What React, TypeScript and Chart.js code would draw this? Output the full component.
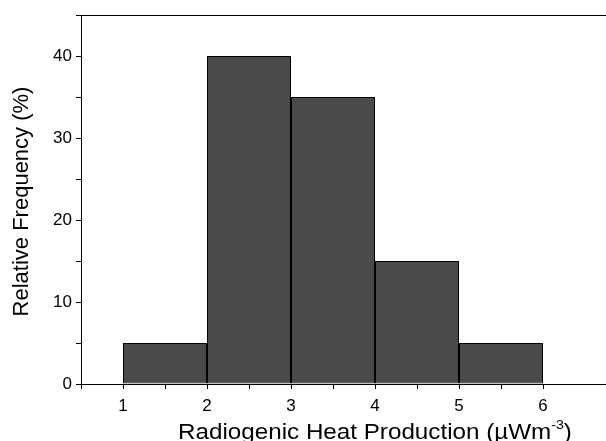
import React, { useEffect, useRef } from "react";
import { Chart, registerables } from "chart.js";

Chart.register(...registerables);

const binStart = [1, 2, 3, 4, 5];
const binEnd = [2, 3, 4, 5, 6];
const frequency = [5, 40, 35, 15, 5];
const xTickValues = [0.5, 1, 1.5, 2, 2.5, 3, 3.5, 4, 4.5, 5, 5.5, 6];

const yTitle = "Relative Frequency (%)";
const xTitleMain = "Radiogenic Heat Production (µWm";
const xTitleSup = "-3";
const xTitleEnd = ")";

const FONT = '"Liberation Sans", Arial, Helvetica, sans-serif';

const titlePlugin = {
  id: "customTitles",
  afterDraw(chart: any) {
    const ctx = chart.ctx as CanvasRenderingContext2D;
    const area = chart.chartArea;
    ctx.save();
    ctx.fillStyle = "#000";
    ctx.textBaseline = "alphabetic";
    // Y title
    ctx.font = `22px ${FONT}`;
    ctx.save();
    ctx.translate(28, (area.top + area.bottom) / 2 + 2);
    ctx.rotate(-Math.PI / 2);
    ctx.textAlign = "center";
    ctx.fillText(yTitle, 0, 0);
    ctx.restore();
    // X title with superscript
    const sx = 1.1;
    ctx.font = `22px ${FONT}`;
    const w1 = ctx.measureText(xTitleMain).width;
    const w3 = ctx.measureText(xTitleEnd).width;
    ctx.font = `13px ${FONT}`;
    const w2 = ctx.measureText(xTitleSup).width;
    const total = (w1 + w2 + w3) * sx;
    const centerX = area.left + (area.right - area.left) * 0.56;
    const baseY = chart.height - 2;
    ctx.save();
    ctx.translate(centerX - total / 2, baseY);
    ctx.scale(sx, 1);
    ctx.textAlign = "left";
    ctx.font = `22px ${FONT}`;
    ctx.fillText(xTitleMain, 0, 0);
    ctx.font = `13px ${FONT}`;
    ctx.fillText(xTitleSup, w1, -10);
    ctx.font = `22px ${FONT}`;
    ctx.fillText(xTitleEnd, w1 + w2, 0);
    ctx.restore();
    ctx.restore();
  },
};

export default function App() {
  const ref = useRef<HTMLCanvasElement>(null);
  useEffect(() => {
    document.body.style.margin = "0";
    const canvas = ref.current;
    if (!canvas) return;
    const data = binStart.map((s, i) => ({ x: (s + binEnd[i]) / 2, y: frequency[i] }));
    const chart = new Chart(canvas, {
      type: "bar",
      data: {
        datasets: [
          {
            data: data as any,
            backgroundColor: "#4a4a4a",
            borderColor: "#000",
            borderWidth: 1,
            borderSkipped: false,
            inflateAmount: 0,
            // ruler min spacing is the 0.5 minor tick step; 2x makes each bar span a full bin
            barPercentage: 2,
            categoryPercentage: 1,
          },
        ],
      },
      plugins: [titlePlugin],
      options: {
        responsive: false,
        animation: false,
        layout: { padding: 0 },
        plugins: { legend: { display: false }, tooltip: { enabled: false } },
        scales: {
          x: {
            type: "linear",
            position: "bottom",
            min: 0.5,
            max: 6.75,
            offset: false,
            afterBuildTicks: (s: any) => {
              s.ticks = xTickValues.map((v) => ({ value: v }));
            },
            ticks: {
              autoSkip: false,
              maxRotation: 0,
              padding: 7,
              color: "#000",
              font: { size: 17, family: FONT },
              callback: (v: any) => (Number.isInteger(v) ? String(v) : ""),
            },
            grid: {
              display: true,
              offset: false,
              drawOnChartArea: false,
              drawTicks: true,
              tickLength: 5,
              color: "#000",
            },
            border: { display: true, color: "#000", width: 1 },
            afterFit: (s: any) => {
              s.height = 57;
            },
          },
          x2: {
            type: "linear",
            position: "top",
            min: 0.5,
            max: 6.75,
            ticks: { display: false },
            grid: { display: false, drawTicks: false },
            border: { display: true, color: "#000", width: 1 },
            afterFit: (s: any) => {
              s.height = 15;
            },
          },
          y: {
            type: "linear",
            min: 0,
            max: 45,
            ticks: {
              stepSize: 5,
              padding: 4,
              color: "#000",
              font: { size: 17, family: FONT },
              callback: (v: any) => (v % 10 === 0 ? String(v) : ""),
            },
            grid: { display: true, drawOnChartArea: false, drawTicks: true, tickLength: 5, color: "#000" },
            border: { display: true, color: "#000", width: 1 },
            afterFit: (s: any) => {
              s.width = 81;
            },
          },
        },
      },
    } as any);
    return () => chart.destroy();
  }, []);
  return <canvas ref={ref} width={606} height={441} style={{ display: "block" }} />;
}
